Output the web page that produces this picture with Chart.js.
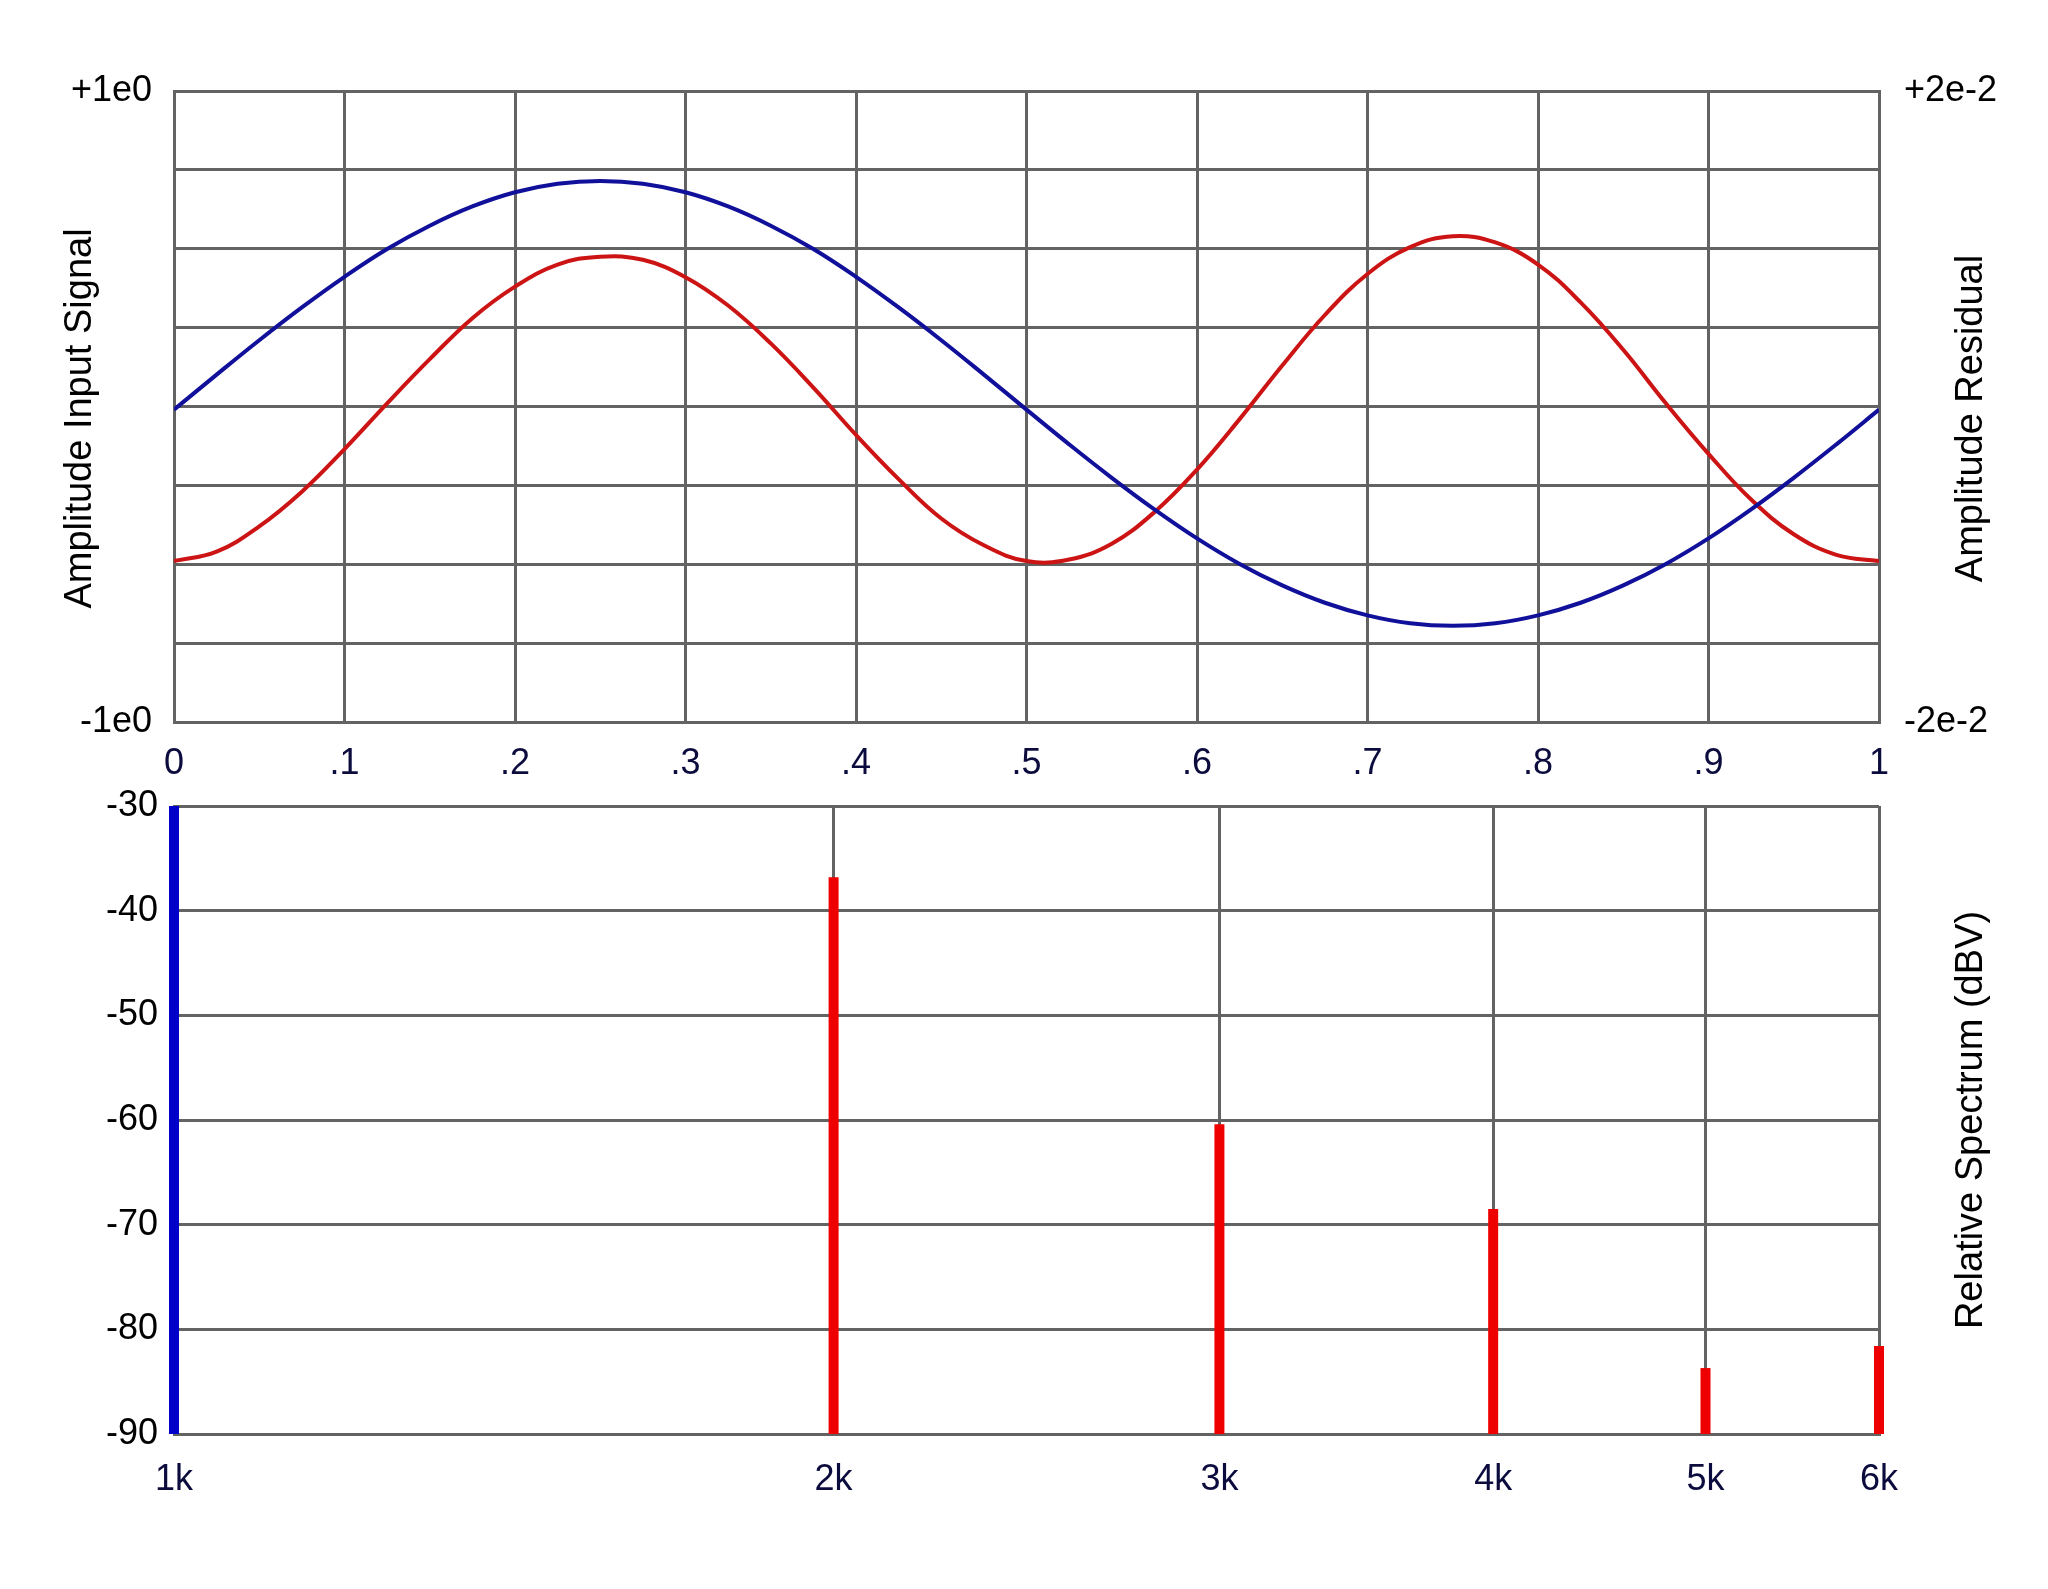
<!DOCTYPE html>
<html>
<head>
<meta charset="utf-8">
<title>Input signal, residual and spectrum</title>
<script src="https://cdn.jsdelivr.net/npm/chart.js@4.4.1/dist/chart.umd.min.js"></script>
<style>
  html, body { margin: 0; padding: 0; background: #fff; }
  body { width: 2048px; height: 1589px; position: relative; overflow: hidden; }
  .box { position: absolute; left: 0; width: 2048px; }
  #topBox { top: 0; height: 790px; }
  #bottomBox { top: 760px; height: 760px; }
</style>
</head>
<body>
<div class="box" id="topBox"><canvas id="waveChart"></canvas></div>
<div class="box" id="bottomBox"><canvas id="spectrumChart"></canvas></div>
<script>
// one period of the test signal
const timeSteps = [0, 0.025, 0.05, 0.075, 0.1, 0.125, 0.15, 0.175, 0.2, 0.225,
    0.25, 0.275, 0.3, 0.325, 0.35, 0.375, 0.4, 0.425, 0.45, 0.475,
    0.5, 0.525, 0.55, 0.575, 0.6, 0.625, 0.65, 0.675, 0.7, 0.725,
    0.75, 0.775, 0.8, 0.825, 0.85, 0.875, 0.9, 0.925, 0.95, 0.975, 1];
const inputSignal = [-0.010, 0.101, 0.210, 0.314, 0.411, 0.499, 0.573, 0.634, 0.679, 0.706,
    0.715, 0.706, 0.679, 0.634, 0.573, 0.499, 0.411, 0.314, 0.210, 0.101,
    -0.010, -0.120, -0.226, -0.326, -0.418, -0.499, -0.567, -0.622, -0.662, -0.687,
    -0.695, -0.687, -0.662, -0.622, -0.567, -0.499, -0.418, -0.326, -0.226, -0.120, -0.010];
const residual = [-0.0098, -0.0092, -0.0076, -0.0054, -0.0027, 0.0002, 0.0030, 0.0056, 0.0076, 0.0090,
    0.0095, 0.0093, 0.0082, 0.0064, 0.0040, 0.0012, -0.0018, -0.0046, -0.0071, -0.0088,
    -0.0098, -0.0097, -0.0087, -0.0067, -0.0040, -0.0008, 0.0026, 0.0058, 0.0084, 0.0101,
    0.0108, 0.0104, 0.0090, 0.0066, 0.0036, 0.0002, -0.0030, -0.0059, -0.0081, -0.0094, -0.0098];
const timeTickLabels = ['0', '.1', '.2', '.3', '.4', '.5', '.6', '.7', '.8', '.9', '1'];

// harmonic spectrum (dBV, relative)
const harmonicFreqs = [1000, 2000, 3000, 4000, 5000, 6000];
const harmonicLevels = [-30, -36.8, -60.4, -68.5, -83.7, -81.6];
const freqTickLabels = ['1k', '2k', '3k', '4k', '5k', '6k'];
const dbFloor = -90;

const fontFamily = '"Liberation Sans", Arial, Helvetica, sans-serif';
const gridGray = '#636363';
const navy = '#0b0b3d';

// vertical titles on both sides (bottom-to-top on the right too)
const sideTitles = {
    id: 'sideTitles',
    afterDraw(chart, args, opts) {
        const ctx = chart.ctx;
        const area = chart.chartArea;
        const cy = (area.top + area.bottom) / 2 + (opts.shift || 0);
        ctx.save();
        ctx.font = '38px ' + fontFamily;
        ctx.fillStyle = '#000';
        ctx.textAlign = 'center';
        ctx.textBaseline = 'middle';
        [[opts.left, opts.leftX], [opts.right, opts.rightX]].forEach(([text, x]) => {
            if (!text) return;
            ctx.save();
            ctx.translate(x, cy);
            ctx.rotate(-Math.PI / 2);
            ctx.fillText(text, 0, 0);
            ctx.restore();
        });
        ctx.restore();
    }
};

const waveChart = new Chart(document.getElementById('waveChart'), {
    type: 'line',
    data: {
        datasets: [{
            label: 'Input signal',
            data: timeSteps.map((t, i) => ({ x: t, y: inputSignal[i] })),
            borderColor: '#10109a',
            borderWidth: 4,
            pointRadius: 0,
            tension: 0.4,
            yAxisID: 'y'
        }, {
            label: 'Residual',
            data: timeSteps.map((t, i) => ({ x: t, y: residual[i] })),
            borderColor: '#cc1414',
            borderWidth: 4,
            pointRadius: 0,
            tension: 0.4,
            yAxisID: 'y2'
        }]
    },
    options: {
        responsive: true,
        maintainAspectRatio: false,
        animation: false,
        layout: { padding: { top: 91 } },
        plugins: {
            legend: { display: false },
            tooltip: { enabled: false },
            sideTitles: { left: 'Amplitude Input Signal', right: 'Amplitude Residual', leftX: 81, rightX: 1972, shift: 12 }
        },
        scales: {
            x: {
                type: 'linear', min: 0, max: 1,
                ticks: {
                    stepSize: 0.1, autoSkip: false, maxRotation: 0,
                    callback: (v, i) => timeTickLabels[i],
                    color: navy, font: { size: 36, family: fontFamily }, padding: 20
                },
                grid: { color: gridGray, lineWidth: 3, drawTicks: false },
                border: { color: gridGray, width: 3 },
                afterFit: s => { s.height = 68; }
            },
            y: {
                position: 'left', min: -1, max: 1,
                ticks: {
                    stepSize: 0.25,
                    callback: v => v === 1 ? '+1e0' : (v === -1 ? '-1e0' : ''),
                    color: '#000', font: { size: 36, family: fontFamily }, padding: 22
                },
                grid: { color: gridGray, lineWidth: 3, drawTicks: false },
                border: { color: gridGray, width: 3 },
                afterFit: s => { s.width = 174; }
            },
            y2: {
                position: 'right', min: -0.02, max: 0.02,
                ticks: {
                    stepSize: 0.005,
                    callback: (v, i, ticks) => i === ticks.length - 1 ? '+2e-2' : (i === 0 ? '-2e-2' : ''),
                    color: '#000', font: { size: 36, family: fontFamily }, padding: 25
                },
                grid: { display: false, drawTicks: false },
                border: { color: gridGray, width: 3 },
                afterFit: s => { s.width = 169; }
            }
        }
    },
    plugins: [sideTitles]
});

const spectrumChart = new Chart(document.getElementById('spectrumChart'), {
    type: 'line',
    data: {
        datasets: harmonicFreqs.map((f, i) => ({
            label: freqTickLabels[i],
            data: [{ x: f, y: dbFloor }, { x: f, y: harmonicLevels[i] }],
            borderColor: i === 0 ? '#0000c8' : '#ee0000',
            borderWidth: 10,
            borderCapStyle: 'butt',
            pointRadius: 0,
            clip: false
        }))
    },
    options: {
        responsive: true,
        maintainAspectRatio: false,
        animation: false,
        layout: { padding: { top: 46, right: 169 } },
        plugins: {
            legend: { display: false },
            tooltip: { enabled: false },
            sideTitles: { right: 'Relative Spectrum (dBV)', rightX: 1972, shift: 0 }
        },
        scales: {
            x: {
                type: 'logarithmic', min: 1000, max: 6000,
                afterBuildTicks: s => { s.ticks = harmonicFreqs.map(v => ({ value: v })); },
                ticks: {
                    autoSkip: false, maxRotation: 0,
                    callback: (v, i) => freqTickLabels[i],
                    color: navy, font: { size: 36, family: fontFamily }, padding: 24
                },
                grid: { color: gridGray, lineWidth: 3, drawTicks: false },
                border: { color: gridGray, width: 3 },
                afterFit: s => { s.height = 86; }
            },
            y: {
                min: dbFloor, max: -30,
                ticks: {
                    stepSize: 10,
                    color: '#000', font: { size: 36, family: fontFamily }, padding: 16
                },
                grid: { color: gridGray, lineWidth: 3, drawTicks: false },
                border: { color: gridGray, width: 3 },
                afterFit: s => { s.width = 174; }
            }
        }
    },
    plugins: [sideTitles]
});
</script>
</body>
</html>
